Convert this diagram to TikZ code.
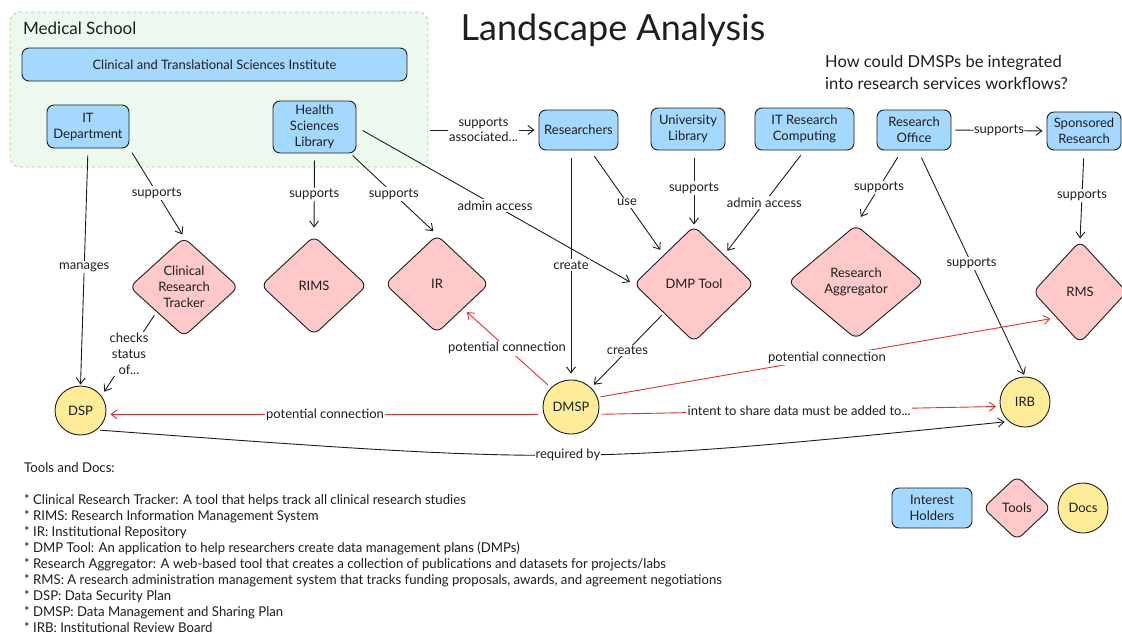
\documentclass[tikz,border=0pt]{standalone}
\usepackage{fontspec}
\setmainfont{Lato}
\newfontfamily\narrowfont[FakeStretch=0.975]{Lato}
\usetikzlibrary{shapes.geometric,arrows.meta,calc}
\definecolor{ink}{HTML}{1E1E1E}
\definecolor{hblue}{HTML}{A5D8FF}
\definecolor{tpink}{HTML}{FFC9C9}
\definecolor{dyellow}{HTML}{FFEC99}
\definecolor{rline}{HTML}{E03131}
\definecolor{gborder}{HTML}{8CD99B}
\definecolor{gfill}{HTML}{EDF8EF}
\tikzset{
  basefont/.style={font=\fontsize{13}{16}\selectfont},
  holder/.style={draw=ink, fill=hblue, rounded corners=7pt, line width=0.9pt, align=center, inner sep=0pt, basefont, text=ink},
  tool/.style={diamond, draw=ink, fill=tpink, rounded corners=7pt, line width=0.9pt, align=center, inner sep=0pt, basefont, text=ink},
  doc/.style={ellipse, draw=ink, fill=dyellow, line width=0.9pt, align=center, inner sep=0pt, basefont, text=ink},
  region/.style={draw=gborder, dashed, fill=gfill, rounded corners=10pt, line width=0.8pt},
  arr/.style={draw=ink, line width=0.9pt, -{Straight Barb[length=6pt,width=9pt]}},
  rarr/.style={draw=rline, line width=0.9pt, -{Straight Barb[length=6pt,width=9pt]}},
  lbl/.style={fill=white, inner sep=1.5pt, basefont, text=ink, align=center},
}
\begin{document}
\begin{tikzpicture}[x=1pt,y=-1pt]
\useasboundingbox (0,0) rectangle (1122,633);
\fill[white] (0,0) rectangle (1122,633);

% region
\node[region, minimum width=418pt, minimum height=155pt] (med) at (219,89.5) {};
\node[anchor=west, font=\fontsize{17}{20}\selectfont, text=ink, inner sep=0pt] (medl) at (23,28) {Medical School};

% title and question
\node[font=\fontsize{36}{40}\selectfont, text=ink, inner sep=0pt] (title) at (613,30) {Landscape Analysis};
\node[anchor=west, align=left, font=\fontsize{16.5}{22}\selectfont, text=ink, inner sep=0pt] (quest) at (825,72) {How could DMSPs be integrated\\into research services workflows?};

% interest holders
\node[holder, minimum width=385pt, minimum height=33pt] (ctsi) at (214.5,64.5) {Clinical and Translational Sciences Institute};
\node[holder, minimum width=82pt, minimum height=43pt] (itd) at (88,126.5) {IT\\Department};
\node[holder, minimum width=83pt, minimum height=52pt] (hsl) at (314.5,127) {Health\\Sciences\\Library};
\node[holder, minimum width=79pt, minimum height=40pt] (res) at (578.5,130) {Researchers};
\node[holder, minimum width=74pt, minimum height=42pt] (ul) at (688,129) {University\\Library};
\node[holder, minimum width=99pt, minimum height=42pt] (itrc) at (804.5,129) {IT Research\\Computing};
\node[holder, minimum width=74pt, minimum height=40pt] (ro) at (914,130) {Research\\Office};
\node[holder, minimum width=74pt, minimum height=38pt] (sr) at (1084,131) {Sponsored\\Research};

% tools
\node[tool, minimum width=109pt, minimum height=99pt] (crt) at (184,287) {Clinical\\Research\\Tracker};
\node[tool, minimum width=106pt, minimum height=99pt] (rims) at (314,285.5) {RIMS};
\node[tool, minimum width=104pt, minimum height=98pt] (ir) at (437,284) {IR};
\node[tool, minimum width=120pt, minimum height=116pt] (dmp) at (694,284) {DMP Tool};
\node[tool, minimum width=136pt, minimum height=114pt] (ra) at (856,282) {Research\\Aggregator};
\node[tool, minimum width=94pt, minimum height=102pt] (rms) at (1080,292) {RMS};

% docs
\node[doc, minimum width=51pt, minimum height=49pt] (dsp) at (80.5,410.5) {DSP};
\node[doc, minimum width=56pt, minimum height=54pt] (dmsp) at (571,407) {DMSP};
\node[doc, minimum width=50pt, minimum height=50pt] (irb) at (1025,402) {IRB};

% legend
\node[holder, minimum width=80pt, minimum height=40pt] (lh) at (932,508) {Interest\\Holders};
\node[tool, minimum width=68pt, minimum height=64pt] (lt) at (1017,508) {Tools};
\node[doc, minimum width=50pt, minimum height=50pt] (ld) at (1083,508) {Docs};

% connectors
\draw[arr, shorten <=7pt, shorten >=1pt] (itd.south) -- node[lbl, midway] {manages} (dsp.north);
\draw[arr, shorten <=5pt, shorten >=3pt] (itd.south east) -- node[lbl, midway] {supports} (crt.north);
\draw[arr, shorten <=7pt, shorten >=8pt] (hsl.south) -- node[lbl, midway] {supports} (rims.north);
\draw[arr, shorten <=3pt, shorten >=5pt] ([xshift=-6pt]hsl.south east) -- node[lbl, midway] {supports} (ir.north);
\draw[arr, shorten <=7pt, shorten >=4pt] (hsl.east) -- node[lbl, pos=0.5] {admin access} (dmp.west);
\draw[arr, shorten <=2pt, shorten >=4pt] (med.east |- res.west) -- node[lbl, midway, font=\fontsize{13}{15}\selectfont] {supports\\associated...} (res.west);
\draw[arr, shorten <=7pt, shorten >=6pt] (res.-60) -- node[lbl, midway] {use} (dmp.north west);
\draw[arr, shorten <=8pt, shorten >=6pt] (res.south -| dmsp.north) -- node[lbl, midway] {create} (dmsp.north);
\draw[arr, shorten <=8pt, shorten >=1pt] (ul.south -| dmp.north) -- node[lbl, midway] {supports} (dmp.north);
\draw[arr, shorten <=6pt, shorten >=5pt] (itrc.south) -- node[lbl, midway] {admin access} (dmp.north east);
\draw[arr, shorten <=4pt, shorten >=4pt] (ro.east) -- node[lbl, midway, inner sep=0.5pt] {supports} (sr.west);
\draw[arr, shorten <=8pt, shorten >=9pt] ([xshift=-12pt]ro.south) -- node[lbl, midway] {supports} (ra.north);
\draw[arr, shorten <=8pt, shorten >=2pt] ([xshift=4pt]ro.south) -- node[lbl, midway] {supports} (irb.north);
\draw[arr, shorten <=8pt, shorten >=2pt] (sr.south) -- node[lbl, midway] {supports} (rms.north);
\draw[arr, shorten <=4pt, shorten >=5pt] (crt.south west) -- node[lbl, midway] {checks\\status\\of...} (dsp.35);
\draw[arr, shorten <=3pt, shorten >=4pt] (dmp.south west) -- node[lbl, midway] {creates} (dmsp.north east);

\draw[rarr, shorten <=4pt, shorten >=5pt] (dmsp.north west) -- node[lbl, midway] {potential connection} (ir.south east);
\draw[rarr, shorten <=3pt, shorten >=6pt] (dmsp.20) -- node[lbl, midway] {potential connection} (rms.south west);
\draw[rarr, shorten <=6pt, shorten >=4pt] (dmsp.195) -- node[lbl, midway] {potential connection} (dmsp.195 -| dsp.east);
\draw[rarr, shorten <=3pt, shorten >=4pt] (dmsp.-15) -- node[lbl, midway] {intent to share data must be added to...} (irb.190);
\draw[arr, shorten <=3pt, shorten >=4pt] (dsp.-50) .. controls (573,465) .. node[lbl, pos=0.5, inner sep=0.5pt] {required by} (irb.-130);

% notes
\node[anchor=north west, align=left, inner sep=0pt, text=ink, font=\narrowfont\fontsize{13.5}{16}\selectfont] (notes) at (24,462) {Tools and Docs:\\[16pt]
* Clinical Research Tracker: A tool that helps track all clinical research studies\\
* RIMS: Research Information Management System\\
* IR: Institutional Repository\\
* DMP Tool: An application to help researchers create data management plans (DMPs)\\
* Research Aggregator: A web-based tool that creates a collection of publications and datasets for projects/labs\\
* RMS: A research administration management system that tracks funding proposals, awards, and agreement negotiations\\
* DSP: Data Security Plan\\
* DMSP: Data Management and Sharing Plan\\
* IRB: Institutional Review Board};
\end{tikzpicture}
\end{document}
